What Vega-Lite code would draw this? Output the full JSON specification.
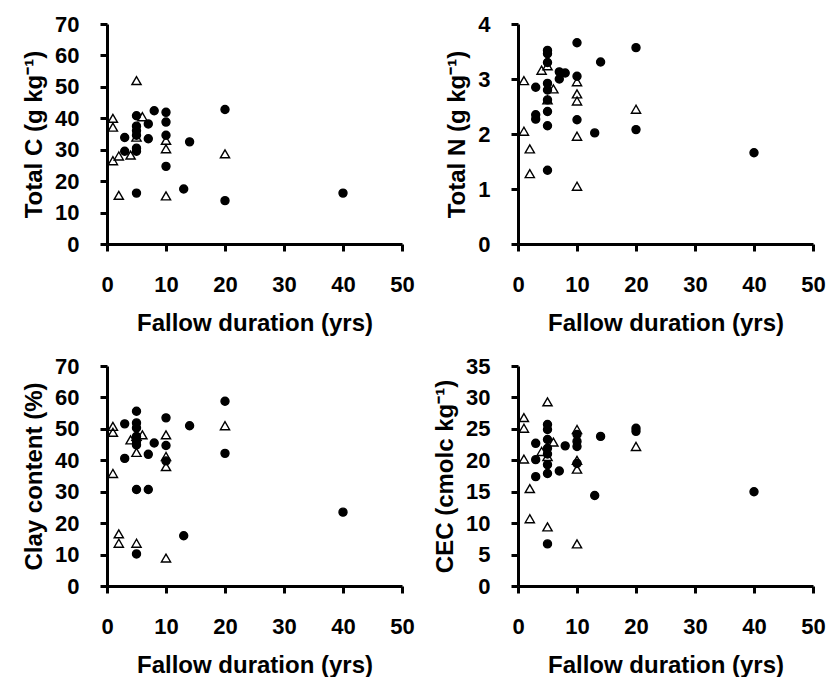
{
  "$schema": "https://vega.github.io/schema/vega-lite/v6.json",
  "padding": {"left": 22, "top": 13, "right": 5, "bottom": 0},
  "background": "white",
  "datasets": {
    "soil": [
      {"p": "C", "t": "circle", "d": 3, "v": 33.9},
      {"p": "C", "t": "circle", "d": 3, "v": 29.5},
      {"p": "C", "t": "circle", "d": 5, "v": 40.8},
      {"p": "C", "t": "circle", "d": 5, "v": 37.5},
      {"p": "C", "t": "circle", "d": 5, "v": 36},
      {"p": "C", "t": "circle", "d": 5, "v": 34.6},
      {"p": "C", "t": "circle", "d": 5, "v": 30.5},
      {"p": "C", "t": "circle", "d": 5, "v": 29.5},
      {"p": "C", "t": "circle", "d": 5, "v": 16.2},
      {"p": "C", "t": "circle", "d": 7, "v": 38.2},
      {"p": "C", "t": "circle", "d": 7, "v": 33.5},
      {"p": "C", "t": "circle", "d": 8, "v": 42.4},
      {"p": "C", "t": "circle", "d": 10, "v": 41.9},
      {"p": "C", "t": "circle", "d": 10, "v": 38.8},
      {"p": "C", "t": "circle", "d": 10, "v": 34.6},
      {"p": "C", "t": "circle", "d": 10, "v": 24.7},
      {"p": "C", "t": "circle", "d": 13, "v": 17.5},
      {"p": "C", "t": "circle", "d": 14, "v": 32.5},
      {"p": "C", "t": "circle", "d": 20, "v": 42.8},
      {"p": "C", "t": "circle", "d": 20, "v": 13.8},
      {"p": "C", "t": "circle", "d": 40, "v": 16.2},
      {"p": "C", "t": "triangle", "d": 1, "v": 40},
      {"p": "C", "t": "triangle", "d": 1, "v": 37.2},
      {"p": "C", "t": "triangle", "d": 1, "v": 26.5},
      {"p": "C", "t": "triangle", "d": 2, "v": 28},
      {"p": "C", "t": "triangle", "d": 2, "v": 15.5},
      {"p": "C", "t": "triangle", "d": 4, "v": 28.3},
      {"p": "C", "t": "triangle", "d": 5, "v": 52},
      {"p": "C", "t": "triangle", "d": 5, "v": 34},
      {"p": "C", "t": "triangle", "d": 6, "v": 40.5},
      {"p": "C", "t": "triangle", "d": 10, "v": 33},
      {"p": "C", "t": "triangle", "d": 10, "v": 30.3},
      {"p": "C", "t": "triangle", "d": 10, "v": 15.3},
      {"p": "C", "t": "triangle", "d": 20, "v": 28.7},

      {"p": "N", "t": "circle", "d": 3, "v": 2.85},
      {"p": "N", "t": "circle", "d": 3, "v": 2.35},
      {"p": "N", "t": "circle", "d": 3, "v": 2.27},
      {"p": "N", "t": "circle", "d": 5, "v": 3.52},
      {"p": "N", "t": "circle", "d": 5, "v": 3.46},
      {"p": "N", "t": "circle", "d": 5, "v": 3.3},
      {"p": "N", "t": "circle", "d": 5, "v": 2.92},
      {"p": "N", "t": "circle", "d": 5, "v": 2.8},
      {"p": "N", "t": "circle", "d": 5, "v": 2.62},
      {"p": "N", "t": "circle", "d": 5, "v": 2.41},
      {"p": "N", "t": "circle", "d": 5, "v": 2.15},
      {"p": "N", "t": "circle", "d": 5, "v": 1.34},
      {"p": "N", "t": "circle", "d": 7, "v": 3.13},
      {"p": "N", "t": "circle", "d": 7, "v": 3.0},
      {"p": "N", "t": "circle", "d": 8, "v": 3.11},
      {"p": "N", "t": "circle", "d": 10, "v": 3.66},
      {"p": "N", "t": "circle", "d": 10, "v": 3.05},
      {"p": "N", "t": "circle", "d": 10, "v": 2.26},
      {"p": "N", "t": "circle", "d": 13, "v": 2.02},
      {"p": "N", "t": "circle", "d": 14, "v": 3.31},
      {"p": "N", "t": "circle", "d": 20, "v": 3.57},
      {"p": "N", "t": "circle", "d": 20, "v": 2.08},
      {"p": "N", "t": "circle", "d": 40, "v": 1.66},
      {"p": "N", "t": "triangle", "d": 1, "v": 2.97},
      {"p": "N", "t": "triangle", "d": 1, "v": 2.05},
      {"p": "N", "t": "triangle", "d": 2, "v": 1.73},
      {"p": "N", "t": "triangle", "d": 2, "v": 1.28},
      {"p": "N", "t": "triangle", "d": 4, "v": 3.16},
      {"p": "N", "t": "triangle", "d": 5, "v": 3.24},
      {"p": "N", "t": "triangle", "d": 5, "v": 2.62},
      {"p": "N", "t": "triangle", "d": 6, "v": 2.82},
      {"p": "N", "t": "triangle", "d": 10, "v": 2.95},
      {"p": "N", "t": "triangle", "d": 10, "v": 2.73},
      {"p": "N", "t": "triangle", "d": 10, "v": 2.6},
      {"p": "N", "t": "triangle", "d": 10, "v": 1.96},
      {"p": "N", "t": "triangle", "d": 10, "v": 1.05},
      {"p": "N", "t": "triangle", "d": 20, "v": 2.45},

      {"p": "Clay", "t": "circle", "d": 3, "v": 51.6},
      {"p": "Clay", "t": "circle", "d": 3, "v": 40.6},
      {"p": "Clay", "t": "circle", "d": 5, "v": 55.6},
      {"p": "Clay", "t": "circle", "d": 5, "v": 51.9},
      {"p": "Clay", "t": "circle", "d": 5, "v": 50.3},
      {"p": "Clay", "t": "circle", "d": 5, "v": 47.6},
      {"p": "Clay", "t": "circle", "d": 5, "v": 46},
      {"p": "Clay", "t": "circle", "d": 5, "v": 44.9},
      {"p": "Clay", "t": "circle", "d": 5, "v": 30.7},
      {"p": "Clay", "t": "circle", "d": 5, "v": 10.2},
      {"p": "Clay", "t": "circle", "d": 7, "v": 41.9},
      {"p": "Clay", "t": "circle", "d": 7, "v": 30.7},
      {"p": "Clay", "t": "circle", "d": 8, "v": 45.5},
      {"p": "Clay", "t": "circle", "d": 10, "v": 53.5},
      {"p": "Clay", "t": "circle", "d": 10, "v": 44.7},
      {"p": "Clay", "t": "circle", "d": 10, "v": 39.8},
      {"p": "Clay", "t": "circle", "d": 13, "v": 16},
      {"p": "Clay", "t": "circle", "d": 14, "v": 51},
      {"p": "Clay", "t": "circle", "d": 20, "v": 58.8},
      {"p": "Clay", "t": "circle", "d": 20, "v": 42.2},
      {"p": "Clay", "t": "circle", "d": 40, "v": 23.5},
      {"p": "Clay", "t": "triangle", "d": 1, "v": 50.8},
      {"p": "Clay", "t": "triangle", "d": 1, "v": 48.9},
      {"p": "Clay", "t": "triangle", "d": 1, "v": 35.8},
      {"p": "Clay", "t": "triangle", "d": 2, "v": 16.6},
      {"p": "Clay", "t": "triangle", "d": 2, "v": 13.6},
      {"p": "Clay", "t": "triangle", "d": 4, "v": 46.5},
      {"p": "Clay", "t": "triangle", "d": 5, "v": 47.6},
      {"p": "Clay", "t": "triangle", "d": 5, "v": 42.5},
      {"p": "Clay", "t": "triangle", "d": 5, "v": 13.6},
      {"p": "Clay", "t": "triangle", "d": 6, "v": 48.1},
      {"p": "Clay", "t": "triangle", "d": 10, "v": 48.1},
      {"p": "Clay", "t": "triangle", "d": 10, "v": 41.2},
      {"p": "Clay", "t": "triangle", "d": 10, "v": 38},
      {"p": "Clay", "t": "triangle", "d": 10, "v": 8.9},
      {"p": "Clay", "t": "triangle", "d": 20, "v": 51},

      {"p": "CEC", "t": "circle", "d": 3, "v": 22.7},
      {"p": "CEC", "t": "circle", "d": 3, "v": 20.1},
      {"p": "CEC", "t": "circle", "d": 3, "v": 17.4},
      {"p": "CEC", "t": "circle", "d": 5, "v": 25.7},
      {"p": "CEC", "t": "circle", "d": 5, "v": 24.9},
      {"p": "CEC", "t": "circle", "d": 5, "v": 23.3},
      {"p": "CEC", "t": "circle", "d": 5, "v": 21.9},
      {"p": "CEC", "t": "circle", "d": 5, "v": 21},
      {"p": "CEC", "t": "circle", "d": 5, "v": 19.3},
      {"p": "CEC", "t": "circle", "d": 5, "v": 17.9},
      {"p": "CEC", "t": "circle", "d": 5, "v": 6.7},
      {"p": "CEC", "t": "circle", "d": 7, "v": 18.3},
      {"p": "CEC", "t": "circle", "d": 8, "v": 22.3},
      {"p": "CEC", "t": "circle", "d": 10, "v": 24.1},
      {"p": "CEC", "t": "circle", "d": 10, "v": 23},
      {"p": "CEC", "t": "circle", "d": 10, "v": 22.2},
      {"p": "CEC", "t": "circle", "d": 10, "v": 19.5},
      {"p": "CEC", "t": "circle", "d": 13, "v": 14.4},
      {"p": "CEC", "t": "circle", "d": 14, "v": 23.8},
      {"p": "CEC", "t": "circle", "d": 20, "v": 25.1},
      {"p": "CEC", "t": "circle", "d": 20, "v": 24.6},
      {"p": "CEC", "t": "circle", "d": 40, "v": 15},
      {"p": "CEC", "t": "triangle", "d": 1, "v": 26.8},
      {"p": "CEC", "t": "triangle", "d": 1, "v": 25.1},
      {"p": "CEC", "t": "triangle", "d": 1, "v": 20.2},
      {"p": "CEC", "t": "triangle", "d": 2, "v": 15.5},
      {"p": "CEC", "t": "triangle", "d": 2, "v": 10.7},
      {"p": "CEC", "t": "triangle", "d": 4, "v": 21.4},
      {"p": "CEC", "t": "triangle", "d": 5, "v": 29.3},
      {"p": "CEC", "t": "triangle", "d": 5, "v": 20.6},
      {"p": "CEC", "t": "triangle", "d": 5, "v": 9.4},
      {"p": "CEC", "t": "triangle", "d": 6, "v": 22.9},
      {"p": "CEC", "t": "triangle", "d": 10, "v": 24.9},
      {"p": "CEC", "t": "triangle", "d": 10, "v": 20},
      {"p": "CEC", "t": "triangle", "d": 10, "v": 18.6},
      {"p": "CEC", "t": "triangle", "d": 10, "v": 6.7},
      {"p": "CEC", "t": "triangle", "d": 20, "v": 22.2}
    ]
  },
  "data": {"name": "soil"},
  "columns": 2,
  "spacing": {"row": 20, "column": 18},
  "concat": [
    {
      "width": 295, "height": 220,
      "transform": [{"filter": "datum.p === 'C'"}],
      "mark": {"type": "point", "strokeWidth": 1.4, "stroke": "black", "opacity": 1},
      "encoding": {
        "x": {"field": "d", "type": "quantitative", "scale": {"domain": [0, 50], "nice": false}, "axis": {"values": [0, 10, 20, 30, 40, 50], "title": "Fallow duration (yrs)"}},
        "y": {"field": "v", "type": "quantitative", "scale": {"domain": [0, 70], "nice": false}, "axis": {"values": [0, 10, 20, 30, 40, 50, 60, 70], "title": "Total C (g kg⁻¹)"}},
        "shape": {"field": "t", "type": "nominal", "scale": {"domain": ["circle", "triangle"], "range": ["circle", "triangle-up"]}, "legend": null},
        "fill": {"field": "t", "type": "nominal", "scale": {"domain": ["circle", "triangle"], "range": ["black", "transparent"]}, "legend": null},
        "size": {"field": "t", "type": "nominal", "scale": {"domain": ["circle", "triangle"], "range": [64, 85]}, "legend": null}
      }
    },
    {
      "width": 295, "height": 220,
      "transform": [{"filter": "datum.p === 'N'"}],
      "mark": {"type": "point", "strokeWidth": 1.4, "stroke": "black", "opacity": 1},
      "encoding": {
        "x": {"field": "d", "type": "quantitative", "scale": {"domain": [0, 50], "nice": false}, "axis": {"values": [0, 10, 20, 30, 40, 50], "title": "Fallow duration (yrs)"}},
        "y": {"field": "v", "type": "quantitative", "scale": {"domain": [0, 4], "nice": false}, "axis": {"values": [0, 1, 2, 3, 4], "title": "Total N (g kg⁻¹)"}},
        "shape": {"field": "t", "type": "nominal", "scale": {"domain": ["circle", "triangle"], "range": ["circle", "triangle-up"]}, "legend": null},
        "fill": {"field": "t", "type": "nominal", "scale": {"domain": ["circle", "triangle"], "range": ["black", "transparent"]}, "legend": null},
        "size": {"field": "t", "type": "nominal", "scale": {"domain": ["circle", "triangle"], "range": [64, 85]}, "legend": null}
      }
    },
    {
      "width": 295, "height": 220,
      "transform": [{"filter": "datum.p === 'Clay'"}],
      "mark": {"type": "point", "strokeWidth": 1.4, "stroke": "black", "opacity": 1},
      "encoding": {
        "x": {"field": "d", "type": "quantitative", "scale": {"domain": [0, 50], "nice": false}, "axis": {"values": [0, 10, 20, 30, 40, 50], "title": "Fallow duration (yrs)"}},
        "y": {"field": "v", "type": "quantitative", "scale": {"domain": [0, 70], "nice": false}, "axis": {"values": [0, 10, 20, 30, 40, 50, 60, 70], "title": "Clay content (%)"}},
        "shape": {"field": "t", "type": "nominal", "scale": {"domain": ["circle", "triangle"], "range": ["circle", "triangle-up"]}, "legend": null},
        "fill": {"field": "t", "type": "nominal", "scale": {"domain": ["circle", "triangle"], "range": ["black", "transparent"]}, "legend": null},
        "size": {"field": "t", "type": "nominal", "scale": {"domain": ["circle", "triangle"], "range": [64, 85]}, "legend": null}
      }
    },
    {
      "width": 295, "height": 220,
      "transform": [{"filter": "datum.p === 'CEC'"}],
      "mark": {"type": "point", "strokeWidth": 1.4, "stroke": "black", "opacity": 1},
      "encoding": {
        "x": {"field": "d", "type": "quantitative", "scale": {"domain": [0, 50], "nice": false}, "axis": {"values": [0, 10, 20, 30, 40, 50], "title": "Fallow duration (yrs)"}},
        "y": {"field": "v", "type": "quantitative", "scale": {"domain": [0, 35], "nice": false}, "axis": {"values": [0, 5, 10, 15, 20, 25, 30, 35], "title": "CEC (cmolc kg⁻¹)"}},
        "shape": {"field": "t", "type": "nominal", "scale": {"domain": ["circle", "triangle"], "range": ["circle", "triangle-up"]}, "legend": null},
        "fill": {"field": "t", "type": "nominal", "scale": {"domain": ["circle", "triangle"], "range": ["black", "transparent"]}, "legend": null},
        "size": {"field": "t", "type": "nominal", "scale": {"domain": ["circle", "triangle"], "range": [64, 85]}, "legend": null}
      }
    }
  ],
  "config": {
    "view": {"stroke": null},
    "font": "Liberation Sans",
    "axis": {
      "grid": false,
      "domain": true,
      "ticks": true,
      "domainColor": "#000000",
      "domainWidth": 3,
      "tickColor": "#000000",
      "tickWidth": 3,
      "tickSize": 7,
      "labelFont": "Liberation Sans",
      "labelFontWeight": "bold",
      "labelFontSize": 22,
      "labelColor": "black",
      "titleFont": "Liberation Sans",
      "titleFontWeight": "bold",
      "titleFontSize": 24,
      "titleColor": "black"
    },
    "axisX": {"labelPadding": 23, "titlePadding": 16, "labelFlush": false},
    "axisY": {"labelPadding": 21, "titlePadding": 8}
  }
}
